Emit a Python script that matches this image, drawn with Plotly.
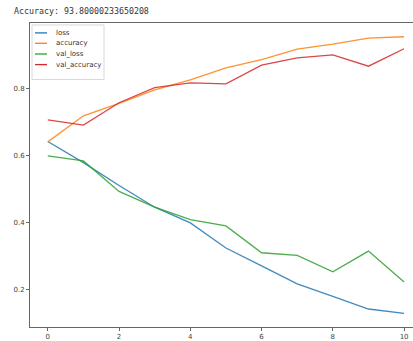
import plotly.graph_objects as go

# Training history per epoch
epochs = list(range(11))
loss = [0.641, 0.578, 0.510, 0.445, 0.398, 0.323, 0.270, 0.216, 0.179, 0.141, 0.128]
accuracy = [0.640, 0.718, 0.755, 0.795, 0.825, 0.861, 0.886, 0.917, 0.932, 0.950, 0.954]
val_loss = [0.598, 0.583, 0.492, 0.445, 0.408, 0.389, 0.309, 0.301, 0.252, 0.314, 0.222]
val_accuracy = [0.706, 0.690, 0.757, 0.802, 0.816, 0.813, 0.869, 0.891, 0.900, 0.866, 0.918]

series = [
    ("loss", loss, "#1f77b4"),
    ("accuracy", accuracy, "#ff7f0e"),
    ("val_loss", val_loss, "#2ca02c"),
    ("val_accuracy", val_accuracy, "#d62728"),
]

W, H = 413, 341
ML, MR, MT, MB = 30, 0, 23, 11
PW, PH = W - ML - MR, H - MT - MB


def px(x):
    return (x - ML) / PW


def py(y):
    return (H - MB - y) / PH


fig = go.Figure()
for name, vals, color in series:
    fig.add_trace(go.Scatter(
        x=epochs, y=vals, mode="lines", name=name,
        line=dict(color=color, width=1.3), opacity=0.85,
        showlegend=False,
    ))

# Legend box drawn by hand for compact rows
shapes = [dict(
    type="rect", xref="paper", yref="paper",
    x0=px(32), x1=px(104), y0=py(80), y1=py(25),
    line=dict(color="#d8d8d8", width=1), fillcolor="rgba(255,255,255,0.85)",
    layer="above",
)]
annotations = []
row_y = [33, 43.5, 54.3, 65]
for (name, _, color), ry in zip(series, row_y):
    shapes.append(dict(
        type="line", xref="paper", yref="paper",
        x0=px(35), x1=px(47), y0=py(ry), y1=py(ry),
        line=dict(color=color, width=1.3), layer="above",
    ))
    annotations.append(dict(
        xref="paper", yref="paper", x=px(54), y=py(ry),
        text=name, showarrow=False, xanchor="left", yanchor="middle",
        font=dict(family="DejaVu Sans", size=7, color="#333"),
    ))

annotations.append(dict(
    xref="paper", yref="paper", x=px(12), y=py(11),
    text="Accuracy: 93.80000233650208", showarrow=False,
    xanchor="left", yanchor="middle",
    font=dict(family="DejaVu Sans Mono", size=8.3, color="#333"),
))

axis_common = dict(
    showgrid=False, zeroline=False, showline=True,
    linecolor="#666", linewidth=1,
    ticks="outside", ticklen=3, tickcolor="#666", tickwidth=1,
    tickfont=dict(family="DejaVu Sans", size=7, color="#444"),
)

fig.update_layout(
    width=W, height=H,
    margin=dict(l=ML, r=MR, t=MT, b=MB, pad=0),
    paper_bgcolor="white", plot_bgcolor="white",
    xaxis=dict(range=[-0.5, 10.25], tickvals=[0, 2, 4, 6, 8, 10],
               mirror=True, **axis_common),
    yaxis=dict(range=[0.0873, 0.995], tickvals=[0.2, 0.4, 0.6, 0.8],
               ticktext=["0.2", "0.4", "0.6", "0.8"], **axis_common),
    shapes=shapes, annotations=annotations,
)

fig.write_html("out.html")
